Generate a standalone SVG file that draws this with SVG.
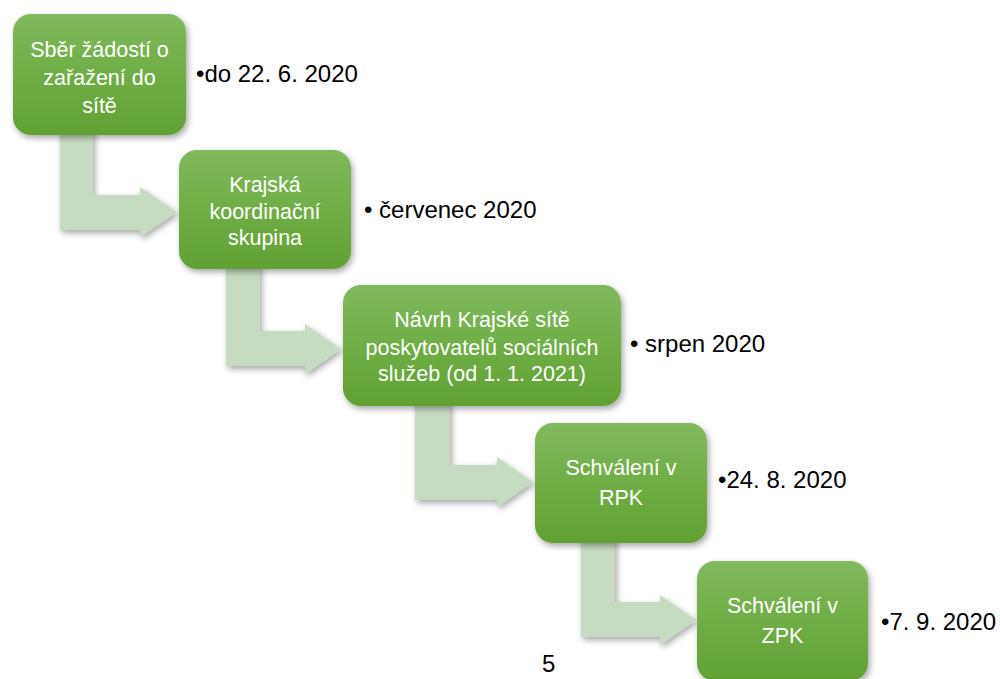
<svg xmlns="http://www.w3.org/2000/svg" width="1000" height="679" viewBox="0 0 1000 679">
<defs>
<linearGradient id="g" x1="0" y1="0" x2="0" y2="1">
<stop offset="0" stop-color="#80b95e"/>
<stop offset="0.5" stop-color="#6fae45"/>
<stop offset="1" stop-color="#61a134"/>
</linearGradient>
<filter id="sh" x="-20%" y="-20%" width="140%" height="150%">
<feDropShadow dx="2" dy="3" stdDeviation="3" flood-color="#000" flood-opacity="0.35"/>
</filter>
<style>
.box{fill:url(#g);filter:url(#sh);}
.conn{fill:#c6dcc0;filter:url(#sh);}
.bt{font-family:"Liberation Sans",Arial,sans-serif;font-size:21.5px;fill:#ffffff;text-anchor:middle;}
.lb{font-family:"Liberation Sans",Arial,sans-serif;font-size:24px;fill:#000000;}
</style>
</defs>
<rect width="1000" height="679" fill="#ffffff"/>
<g id="connectors">
<path class="conn" d="M60,130 H93 V195 H140 V187 L177,212 L140,237 V230 H60 Z"/>
<path class="conn" d="M226,264 H260 V331 H305 V324 L341,349 L305,374 V366 H226 Z"/>
<path class="conn" d="M415,400 H450 V465 H497 V457 L533,482 L497,507 V500 H415 Z"/>
<path class="conn" d="M581,538 H615 V602 H660 V595 L696,620 L660,645 V637 H581 Z"/>
</g>
<g id="node1">
<rect class="box" x="13" y="14" width="173" height="121" rx="18"/>
<text class="bt" x="99.5" y="57">Sběr žádostí o</text>
<text class="bt" x="99.5" y="85">zařažení do</text>
<text class="bt" x="99.5" y="113">sítě</text>
</g>
<g id="node2">
<rect class="box" x="179" y="150" width="172" height="119" rx="18"/>
<text class="bt" x="265" y="192">Krajská</text>
<text class="bt" x="265" y="219">koordinační</text>
<text class="bt" x="265" y="245">skupina</text>
</g>
<g id="node3">
<rect class="box" x="343" y="285" width="278" height="121" rx="18"/>
<text class="bt" x="482" y="327">Návrh Krajské sítě</text>
<text class="bt" x="482" y="355">poskytovatelů sociálních</text>
<text class="bt" x="482" y="381">služeb (od 1. 1. 2021)</text>
</g>
<g id="node4">
<rect class="box" x="535" y="423" width="172" height="120" rx="18"/>
<text class="bt" x="621" y="475">Schválení v</text>
<text class="bt" x="621" y="505">RPK</text>
</g>
<g id="node5">
<rect class="box" x="697" y="561" width="171" height="120" rx="18"/>
<text class="bt" x="782.5" y="613">Schválení v</text>
<text class="bt" x="782.5" y="643">ZPK</text>
</g>
<g id="labels">
<text class="lb" x="542" y="672" font-size="20">5</text>
<text class="lb" x="196" y="82">•do 22. 6. 2020</text>
<text class="lb" x="364" y="218">• červenec 2020</text>
<text class="lb" x="630" y="352">• srpen 2020</text>
<text class="lb" x="718" y="488">•24. 8. 2020</text>
<text class="lb" x="881" y="630">•7. 9. 2020</text>
</g>
</svg>
